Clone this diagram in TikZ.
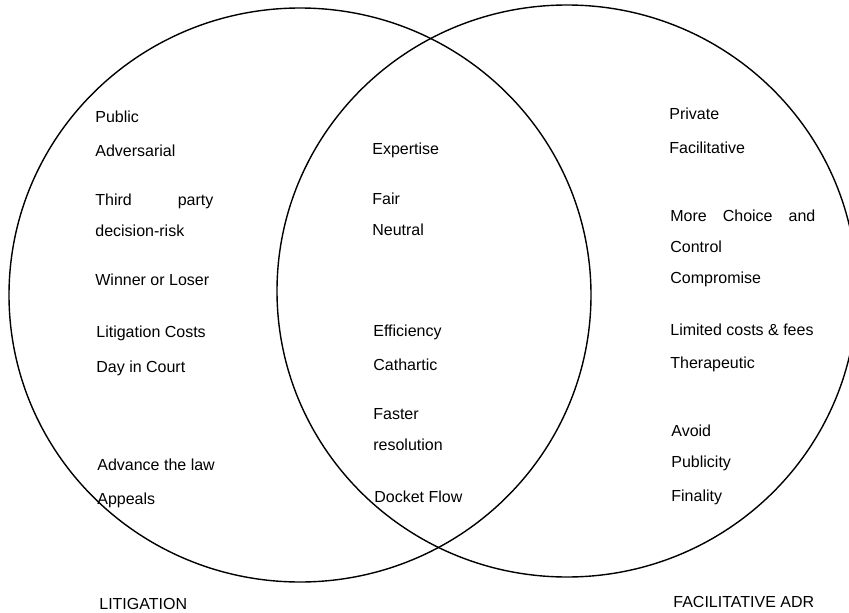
\documentclass[tikz,border=0pt]{standalone}
\usepackage{fontspec}
\setmainfont{Liberation Sans}
\usepackage{tikz}
\tikzset{every picture/.style={line width=0.75pt}}
\tikzset{venn/.style={line width=1.4pt},
  item/.style={anchor=base west,inner sep=0pt,font=\fontsize{16}{19}\selectfont}}

\begin{document}
\begin{tikzpicture}[x=1pt,y=1pt,yscale=-1]
\useasboundingbox (0,0) rectangle (849,613);

%Shape: Ellipse [id:litigation circle]
\draw [venn] (300,295) ellipse [x radius=291, y radius=287];
%Shape: Ellipse [id:adr circle]
\draw [venn] (567,291) ellipse [x radius=290, y radius=286];

% Text Node
\node [item] (public) at (95,122) {Public};
% Text Node
\node [item] (adversarial) at (95,156) {Adversarial};
% Text Node
\node [item] (thirdparty) at (95,205) {\makebox[118pt][s]{Third party}};
% Text Node
\node [item] (decisionrisk) at (95,236) {decision-risk};
% Text Node
\node [item] (winner) at (95,285) {Winner or Loser};
% Text Node
\node [item] (litcosts) at (96,337) {Litigation Costs};
% Text Node
\node [item] (dayincourt) at (96,372) {Day in Court};
% Text Node
\node [item] (advance) at (97,470) {Advance the law};
% Text Node
\node [item] (appeals) at (97,504) {Appeals};
% Text Node
\node [item] (litigation) at (99,609) {LITIGATION};

% Text Node
\node [item] (expertise) at (372,154) {Expertise};
% Text Node
\node [item] (fair) at (372,204) {Fair};
% Text Node
\node [item] (neutral) at (372,235) {Neutral};
% Text Node
\node [item] (efficiency) at (373,336) {Efficiency};
% Text Node
\node [item] (cathartic) at (373,370) {Cathartic};
% Text Node
\node [item] (faster) at (373,419) {Faster};
% Text Node
\node [item] (resolution) at (373,450) {resolution};
% Text Node
\node [item] (docket) at (374,502) {Docket Flow};

% Text Node
\node [item] (private) at (669,119) {Private};
% Text Node
\node [item] (facilitative) at (669,153) {Facilitative};
% Text Node
\node [item] (morechoice) at (670,221) {\makebox[145pt][s]{More Choice and}};
% Text Node
\node [item] (control) at (670,252) {Control};
% Text Node
\node [item] (compromise) at (670,283) {Compromise};
% Text Node
\node [item] (limited) at (670,335) {Limited costs \& fees};
% Text Node
\node [item] (therapeutic) at (670,368) {Therapeutic};
% Text Node
\node [item] (avoid) at (671,436) {Avoid};
% Text Node
\node [item] (publicity) at (671,467) {Publicity};
% Text Node
\node [item] (finality) at (671,501) {Finality};
% Text Node
\node [item] (adr) at (673,607) {FACILITATIVE ADR};
\end{tikzpicture}
\end{document}
